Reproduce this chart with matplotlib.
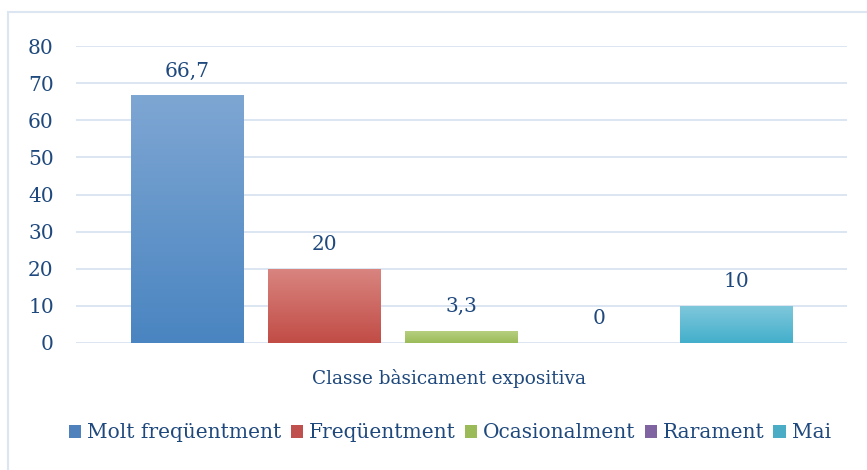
import numpy as np
import matplotlib.pyplot as plt
from matplotlib.colors import LinearSegmentedColormap
from matplotlib.patches import Rectangle

categories = ['Molt freqüentment', 'Freqüentment', 'Ocasionalment', 'Rarament', 'Mai']
values = [66.7, 20, 3.3, 0, 10]
labels = ['66,7', '20', '3,3', '0', '10']
group = 'Classe bàsicament expositiva'
yticks = [0, 10, 20, 30, 40, 50, 60, 70, 80]

# top / bottom colours of each bar gradient, plus solid legend colour
tops = ['#7ea6d3', '#d98580', '#b8d183', '#a08cc0', '#80c8dc']
bottoms = ['#4a85c1', '#c24c46', '#9bbb59', '#8064a2', '#43afcb']
solid = ['#4f81bd', '#c0504d', '#9bbb59', '#8064a2', '#4bacc6']

txt = '#1f497d'
grid = '#dce6f2'
fs = 14.5
plt.rcParams['font.family'] = ['DejaVu Serif']

fig = plt.figure(figsize=(8.67, 4.70), dpi=100)
# outer chart border (runs off the right and bottom of the image)
fig.patches.append(Rectangle((8/867, -0.05), 1.0, 458/470 + 0.05, transform=fig.transFigure,
                             fill=False, edgecolor=grid, lw=1.5))
ax = fig.add_axes([76/867, 127/470, 771/867, 297/470])

x = np.arange(len(categories))
bars = ax.bar(x, values, width=0.8175, color=solid, label=categories, zorder=2)
for b, t, bt in zip(bars, tops, bottoms):
    h = b.get_height()
    if h <= 0:
        continue
    cm = LinearSegmentedColormap.from_list('g', [bt, t])
    grad = np.linspace(0, 1, 100).reshape(-1, 1)
    im = ax.imshow(grad, cmap=cm, origin='lower', aspect='auto', zorder=3,
                   extent=[b.get_x(), b.get_x() + b.get_width(), 0, h])
    im.set_clip_path(b)

for xi, v, lab in zip(x, values, labels):
    ax.annotate(lab, (xi, v), xytext=(0, 13.5), textcoords='offset points',
                ha='center', va='baseline', color=txt, fontsize=fs)

ax.set_xlim(-0.81, 4.81)
ax.set_ylim(0, 80)
ax.set_yticks(yticks)
ax.yaxis.grid(True, color=grid, lw=1.4)
ax.set_axisbelow(True)
ax.tick_params(axis='y', length=0, pad=16, labelsize=fs, labelcolor=txt)
ax.set_xticks([])
for s in ax.spines.values():
    s.set_visible(False)

fig.text(449/867, 1 - 378/470, group, ha='center', va='center', color=txt, fontsize=13.3)

fig.legend(handles=bars, labels=categories, loc='center', bbox_to_anchor=(450/867, 1 - 433/470),
           ncol=5, frameon=False, fontsize=fs, labelcolor=txt, handlelength=0.6,
           handleheight=0.6, handletextpad=0.3, columnspacing=0.45)

fig.savefig('out.png', dpi=100)
